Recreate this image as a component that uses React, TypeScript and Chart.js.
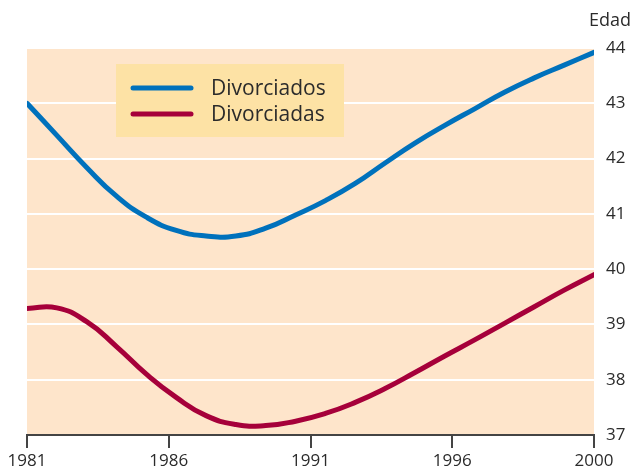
import React, { useEffect, useRef } from "react";
import { Chart, registerables } from "chart.js";

Chart.register(...registerables);

const years = [1981, 1982, 1983, 1984, 1985, 1986, 1987, 1988, 1989, 1990, 1991, 1992, 1993, 1994, 1995, 1996, 1997, 1998, 1999, 2000];
const divorciados = [43.0, 42.42, 41.84, 41.32, 40.94, 40.7, 40.6, 40.6, 40.74, 40.98, 41.24, 41.55, 41.92, 42.28, 42.6, 42.9, 43.2, 43.46, 43.69, 43.92];
const divorciadas = [39.29, 39.3, 39.05, 38.6, 38.1, 37.68, 37.35, 37.19, 37.17, 37.25, 37.39, 37.59, 37.84, 38.13, 38.43, 38.72, 39.02, 39.32, 39.62, 39.9];
const seriesLabels = ["Divorciados", "Divorciadas"];
const xTickLabels = ["1981", "1986", "1991", "1996", "2000"];
const yMin = 37;
const yMax = 44;
const yAxisTitle = "Edad";

const BLUE = "#0071BC";
const RED = "#A6003A";
const PEACH = "#FEE5CB";
const LEGEND_BG = "#FDE2A5";
const TEXT = "#2b2b2b";
const FONT = "'Open Sans', 'Noto Sans', sans-serif";

const bgPlugin = {
  id: "bgPlugin",
  beforeDraw(chart: any) {
    const { ctx, chartArea } = chart;
    ctx.save();
    ctx.fillStyle = PEACH;
    ctx.fillRect(chartArea.left, chartArea.top, chartArea.right - chartArea.left, chartArea.bottom - chartArea.top);
    ctx.restore();
  },
};

const legendPlugin = {
  id: "customLegend",
  afterDatasetsDraw(chart: any) {
    const { ctx, chartArea } = chart;
    const x0 = chartArea.left + 89;
    const y0 = chartArea.top + 16;
    ctx.save();
    ctx.fillStyle = LEGEND_BG;
    ctx.fillRect(x0, y0, 228, 73);
    chart.data.datasets.forEach((ds: any, i: number) => {
      const y = y0 + 24 + i * 26;
      ctx.strokeStyle = ds.borderColor;
      ctx.lineWidth = 5;
      ctx.lineCap = "round";
      ctx.beginPath();
      ctx.moveTo(x0 + 17, y);
      ctx.lineTo(x0 + 75, y);
      ctx.stroke();
      ctx.fillStyle = TEXT;
      ctx.font = `21px ${FONT}`;
      ctx.textBaseline = "middle";
      ctx.textAlign = "left";
      ctx.fillText(ds.label, x0 + 95, y + 1);
    });
    ctx.restore();
  },
  afterDraw(chart: any) {
    const { ctx, chartArea } = chart;
    ctx.save();
    ctx.fillStyle = TEXT;
    ctx.font = `18px ${FONT}`;
    ctx.textBaseline = "middle";
    ctx.textAlign = "left";
    ctx.fillText(yAxisTitle, chartArea.right - 5, chartArea.top - 27);
    ctx.restore();
  },
};

export default function App() {
  const ref = useRef<HTMLCanvasElement | null>(null);

  useEffect(() => {
    if (!ref.current) return;
    const chart = new Chart(ref.current, {
      type: "line",
      data: {
        datasets: [
          {
            label: seriesLabels[0],
            data: years.map((y, i) => ({ x: y, y: divorciados[i] })),
            borderColor: BLUE,
            borderWidth: 5,
            pointRadius: 0,
            tension: 0.5,
            borderCapStyle: "round",
          },
          {
            label: seriesLabels[1],
            data: years.map((y, i) => ({ x: y, y: divorciadas[i] })),
            borderColor: RED,
            borderWidth: 5,
            pointRadius: 0,
            tension: 0.5,
            borderCapStyle: "round",
          },
        ],
      },
      options: {
        animation: false,
        responsive: true,
        maintainAspectRatio: false,
        layout: { padding: { left: 27, top: 48, right: 0, bottom: 0 } },
        plugins: { legend: { display: false }, tooltip: { enabled: false }, title: { display: false } },
        scales: {
          x: {
            type: "linear",
            min: years[0],
            max: years[years.length - 1],
            afterBuildTicks(scale: any) {
              const span = years[years.length - 1] - years[0];
              scale.ticks = xTickLabels.map((_, i) => ({ value: years[0] + (i * span) / (xTickLabels.length - 1) }));
            },
            afterFit(scale: any) {
              scale.height = 40;
            },
            ticks: {
              callback: (_v: any, i: number) => xTickLabels[i],
              color: TEXT,
              font: { family: FONT, size: 17 },
              padding: 3,
              maxRotation: 0,
              autoSkip: false,
            },
            grid: { drawOnChartArea: false, drawTicks: true, tickLength: 13, color: "#444", lineWidth: 2 },
            border: { display: true, color: "#444", width: 2 },
          },
          y: {
            position: "right",
            min: yMin,
            max: yMax,
            afterFit(scale: any) {
              scale.width = 42;
            },
            ticks: {
              stepSize: 1,
              color: TEXT,
              font: { family: FONT, size: 17 },
              padding: 12,
            },
            grid: { color: "#ffffff", lineWidth: 2, drawTicks: false },
            border: { display: false },
          },
        },
      },
      plugins: [bgPlugin, legendPlugin],
    } as any);
    return () => chart.destroy();
  }, []);

  return (
    <div style={{ position: "fixed", left: 0, top: 0, width: 636, height: 475, background: "#fff" }}>
      <canvas ref={ref} />
    </div>
  );
}
